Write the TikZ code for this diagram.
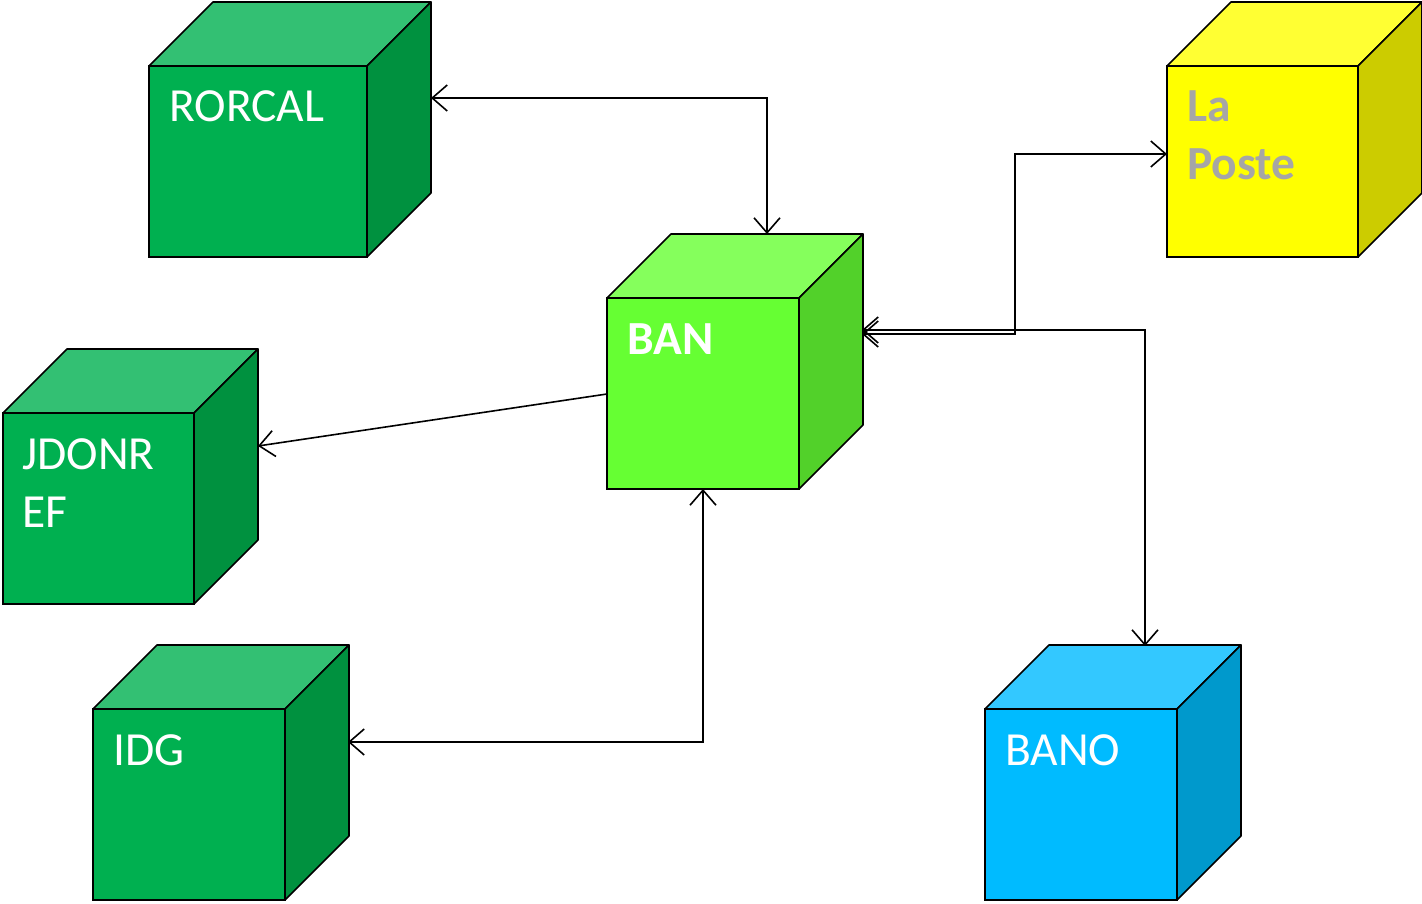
\documentclass[tikz,border=0pt]{standalone}
\usepackage{fontspec}
\setmainfont{Carlito}
\usetikzlibrary{arrows.meta}
\definecolor{gfront}{HTML}{00B050}
\definecolor{gtop}{HTML}{33C073}
\definecolor{gside}{HTML}{00913F}
\definecolor{bfront}{HTML}{66FF33}
\definecolor{btop}{HTML}{85FF5C}
\definecolor{bside}{HTML}{52D12A}
\definecolor{yfront}{HTML}{FFFF00}
\definecolor{ytop}{HTML}{FFFF33}
\definecolor{yside}{HTML}{CCCC00}
\definecolor{cfront}{HTML}{00BBFF}
\definecolor{ctop}{HTML}{33C8FF}
\definecolor{cside}{HTML}{0099CC}
\definecolor{lpgray}{HTML}{A6A6A6}
% #1 name, #2 x, #3 y, #4 w, #5 h, #6 front, #7 top, #8 side
\newcommand\mycube[8]{%
  \filldraw[fill=#7,facet] (#2,#3) -- ++(64,-64) -- ++(#4,0) -- ++(-64,64) -- cycle;
  \filldraw[fill=#8,facet] (#2+#4,#3) -- ++(64,-64) -- ++(0,#5) -- ++(-64,64) -- cycle;
  \node[frontface,fill=#6,minimum width=#4,minimum height=#5] (#1) at (#2,#3) {};
}
\begin{document}
\begin{tikzpicture}[x=1pt,y=-1pt,
  facet/.style={draw=black,line width=1.6pt,line join=round},
  frontface/.style={draw=black,line width=1.6pt,anchor=north west,inner sep=0pt,outer sep=0pt},
  lbl/.style={anchor=base west,inner sep=0pt,text=white,font=\fontsize{47.5}{58}\selectfont,align=left},
  conn/.style={line width=1.6pt,{Straight Barb[length=15pt,width=26pt,line width=1.6pt]}-{Straight Barb[length=15pt,width=26pt,line width=1.6pt]}},
  conn1/.style={line width=1.6pt,-{Straight Barb[length=15pt,width=26pt,line width=1.6pt]}}]
\useasboundingbox (0,0) rectangle (1422,904);
\mycube{ror}{149}{66}{218}{191}{gfront}{gtop}{gside}
\mycube{lp}{1167}{66}{191}{191}{yfront}{ytop}{yside}
\mycube{ban}{607}{298}{192}{191}{bfront}{btop}{bside}
\mycube{jd}{3}{413}{191}{191}{gfront}{gtop}{gside}
\mycube{idg}{93}{709}{192}{191}{gfront}{gtop}{gside}
\mycube{bano}{985}{709}{192}{191}{cfront}{ctop}{cside}
\node[lbl] (tror) at (169,122) {RORCAL};
\node[lbl,text=lpgray,font=\fontsize{47.5}{58}\selectfont\bfseries] (tlp) at (1187,180) {La\\Poste};
\node[lbl,font=\fontsize{47.5}{58}\selectfont\bfseries] (tban) at (627,354) {BAN};
\node[lbl] (tjd) at (22,527) {JDONR\\EF};
\node[lbl] (tidg) at (113,765) {IDG};
\node[lbl] (tbano) at (1005,765) {BANO};
\coordinate (ror-e) at (431,98);
\coordinate (ban-n) at (767,234);
\coordinate (ban-e1) at (862,334);
\coordinate (ban-e2) at (862,330);
\coordinate (m1) at (1015,334);
\coordinate (lp-w) at (1167,154);
\coordinate (bano-n) at (1145,646);
\coordinate (ban-w) at (607,394);
\coordinate (jd-e) at (258,446);
\coordinate (ban-s) at (703,489);
\coordinate (idg-e) at (348,742);
\draw[conn] (ror-e) -| (ban-n);
\draw[conn] (ban-e1) -- (m1) |- (lp-w);
\draw[conn] (ban-e2) -| (bano-n);
\draw[conn1] (ban-w) -- (jd-e);
\draw[conn] (ban-s) |- (idg-e);
\end{tikzpicture}
\end{document}
